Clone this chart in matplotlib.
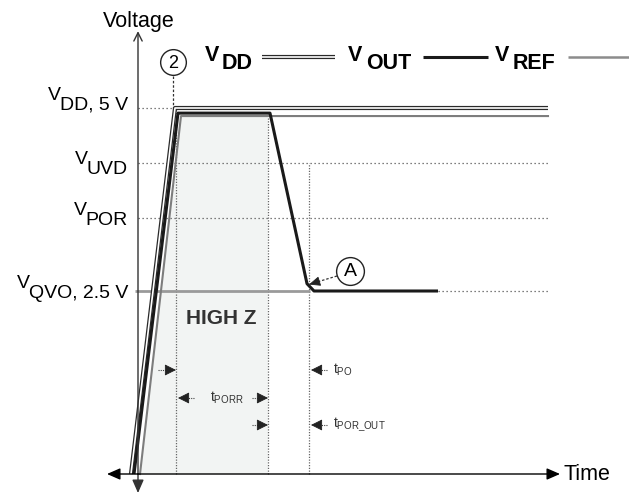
import numpy as np
import matplotlib
matplotlib.use("Agg")
import matplotlib.pyplot as plt
from matplotlib.transforms import Affine2D

plt.rcParams['font.family'] = ['Liberation Sans', 'DejaVu Sans']
plt.rcParams['mathtext.fontset'] = 'custom'
plt.rcParams['mathtext.rm'] = 'Liberation Sans'
plt.rcParams['mathtext.it'] = 'Liberation Sans:italic'
plt.rcParams['mathtext.bf'] = 'Liberation Sans:bold'

# ---------------- data (time in arbitrary units, voltage in V) ----------------
vdd_t = [-0.7, 3.7, 41.0]
vdd_v = [0.0, 5.0, 5.0]

vout_t = [-0.4, 4.0, 13.2, 16.9, 17.6, 30.0]
vout_v = [0.0, 4.93, 4.93, 2.6, 2.5, 2.5]

vref_t = [0.2, 4.3, 41.0]
vref_v = [0.0, 4.89, 4.89]

vqvo_t = [-0.3, 17.2]
vqvo_v = [2.5, 2.5]

level_values = [5.0, 4.25, 3.5, 2.5]
level_start = [0.0, 0.0, 0.0, 30.0]
level_end = 41.0
level_subs = ["DD, 5 V", "UVD", "POR", "QVO, 2.5 V"]

marker_t = [3.8, 13.0, 17.1]
marker_top = [5.0, 4.93, 4.25]
highz_end = 13.0

# ---------------- figure ----------------
W, H = 629, 497
fig = plt.figure(figsize=(W / 100, H / 100), dpi=100)
ax = fig.add_axes([0, 0, 1, 1])
ax.set_xlim((0 - 138) / 10, (W - 138) / 10)
ax.set_ylim((474 - H) / 73.2, 474 / 73.2)
ax.axis('off')

# pixel transform (origin top-left) for layout items
px = Affine2D().scale(1 / W, -1 / H).translate(0, 1) + fig.transFigure

# shaded HIGH Z region
ax.fill([vref_t[0], vref_t[1], highz_end, highz_end],
        [vref_v[0], vref_v[1], vref_v[1], 0.0],
        color='#f2f4f3', zorder=0, lw=0)

# horizontal dotted level lines
for v, s in zip(level_values, level_start):
    ax.plot([s, level_end], [v, v], color='#555', lw=0.9,
            ls=(0, (1, 2.2)), zorder=1)

# vertical dotted marker lines
for t, top in zip(marker_t, marker_top):
    ax.plot([t, t], [0, top], color='#666', lw=0.9, ls=(0, (1, 1.2)), zorder=1)

# VQVO gray line
ax.plot(vqvo_t, vqvo_v, color='#9a9a9a', lw=2.0, zorder=2, solid_capstyle='butt')

# VREF
ax.plot(vref_t, vref_v, color='#7d7d7d', lw=1.5, zorder=3, solid_joinstyle='round')
# VDD double line
ax.plot(vdd_t, vdd_v, color='#2a2a2a', lw=3.0, zorder=4, solid_joinstyle='round',
        solid_capstyle='butt')
ax.plot(vdd_t, vdd_v, color='white', lw=1.2, zorder=5, solid_joinstyle='round',
        solid_capstyle='butt')
# VOUT
ax.plot(vout_t, vout_v, color='#1a1a1a', lw=2.2, zorder=6, solid_joinstyle='round',
        solid_capstyle='butt')

# axes with arrows
def arrow(p0, p1, style='-|>', hl=0.8, hw=0.35, color='black', lw=1.0, ls='-', trans=None, z=7):
    ax.annotate('', xy=p1, xytext=p0, xycoords=trans or ax.transData,
                textcoords=trans or ax.transData,
                arrowprops=dict(arrowstyle=f'{style},head_length={hl},head_width={hw}',
                                color=color, lw=lw, ls=ls, shrinkA=0, shrinkB=0,
                                mutation_scale=10), zorder=z)

arrow((0, 0), (0, 6.05), style='->', hl=0.6, hw=0.3, color='#333', lw=1.0)
arrow((0, 0), (0, -0.26), color='#333', lw=1.0)
arrow((0, 0), (42.2, 0), lw=1.0)
arrow((0, 0), (-3.1, 0), lw=1.0)

# axis titles
ax.text(139, 27, "Voltage", transform=px, fontsize=15.5, ha='center', va='baseline')
ax.text(563, 475, "Time", transform=px, fontsize=15.5, ha='left', va='center')

# y level labels (V + lowered subscript)
sub_baselines = [110, 174, 225, 298]
subs = []
for s, b in zip(level_subs, sub_baselines):
    subs.append(ax.text(128, b, s, transform=px, fontsize=14, ha='right', va='baseline'))
fig.canvas.draw()
r = fig.canvas.get_renderer()
for t_, b in zip(subs, sub_baselines):
    x0 = t_.get_window_extent(r).x0
    x0_px = x0 * W / fig.bbox.width
    ax.text(x0_px + 1, b - 10, "V", transform=px, fontsize=14, ha='right', va='baseline')

# legend
ax.text(205, 61, "V", transform=px, fontsize=15.5, fontweight='bold', va='baseline')
ax.text(222, 69, "DD", transform=px, fontsize=15.5, fontweight='bold', va='baseline')
ax.plot([262, 335], [57, 57], transform=px, color='#2a2a2a', lw=3.0, solid_capstyle='butt')
ax.plot([262, 335], [57, 57], transform=px, color='white', lw=1.2, solid_capstyle='butt')
ax.text(348, 61, "V", transform=px, fontsize=15.5, fontweight='bold', va='baseline')
ax.text(366, 69, "OUT", transform=px, fontsize=15.5, fontweight='bold', va='baseline')
ax.plot([423, 488], [57, 57], transform=px, color='#1a1a1a', lw=2.2, solid_capstyle='butt')
ax.text(495, 61, "V", transform=px, fontsize=15.5, fontweight='bold', va='baseline')
ax.text(513, 69, "REF", transform=px, fontsize=15.5, fontweight='bold', va='baseline')
ax.plot([568, 629], [57, 57], transform=px, color='#8c8c8c', lw=1.8, solid_capstyle='butt')

# HIGH Z
ax.text(221, 324, "HIGH Z", transform=px, fontsize=15, fontweight='bold', color='#333',
        ha='center', va='baseline')

# circle 2 and dashed line
ax.plot([173], [62], transform=px, marker='o', ms=18.5, mfc='white', mec='#222', mew=1.0)
ax.text(173, 63, "2", transform=px, fontsize=13, ha='center', va='center')
ax.plot([173, 173], [76, 108], transform=px, color='#333', lw=0.9, ls=(0, (2, 1.5)))

# circle A and dashed arrow
ax.plot([350], [271], transform=px, marker='o', ms=20, mfc='white', mec='#222', mew=1.0)
ax.text(350, 272, "A", transform=px, fontsize=14, ha='center', va='center')
ax.plot([337, 317], [276, 282], transform=px, color='#333', lw=0.9, ls=(0, (2, 1.5)))
arrow((317, 282), (309, 284.5), hl=0.7, hw=0.3, color='#222', lw=0.6, trans=px, z=8)

# timing arrows: (tip_x, tail_x, y)
timing = [(176, 158, 370), (311, 327, 370), (178, 194, 398), (268, 252, 398),
          (268, 252, 425), (311, 327, 425)]
for tip, tail, y in timing:
    d = 1 if tip > tail else -1
    mid = tip - d * 7
    ax.plot([tail, mid], [y, y], transform=px, color='#444', lw=0.8, ls=(0, (1, 1)))
    arrow((mid, y), (tip, y), hl=0.7, hw=0.35, color='#222', lw=0.6, trans=px, z=8)

ax.text(333, 374, r'$\mathrm{t_{PO}}$', transform=px, fontsize=10, color='#333', va='baseline')
ax.text(210, 402, r'$\mathrm{t_{PORR}}$', transform=px, fontsize=10, color='#333', va='baseline')
ax.text(333, 428, r'$\mathrm{t_{POR\_OUT}}$', transform=px, fontsize=10, color='#333', va='baseline')

fig.savefig("out.png", dpi=100)
